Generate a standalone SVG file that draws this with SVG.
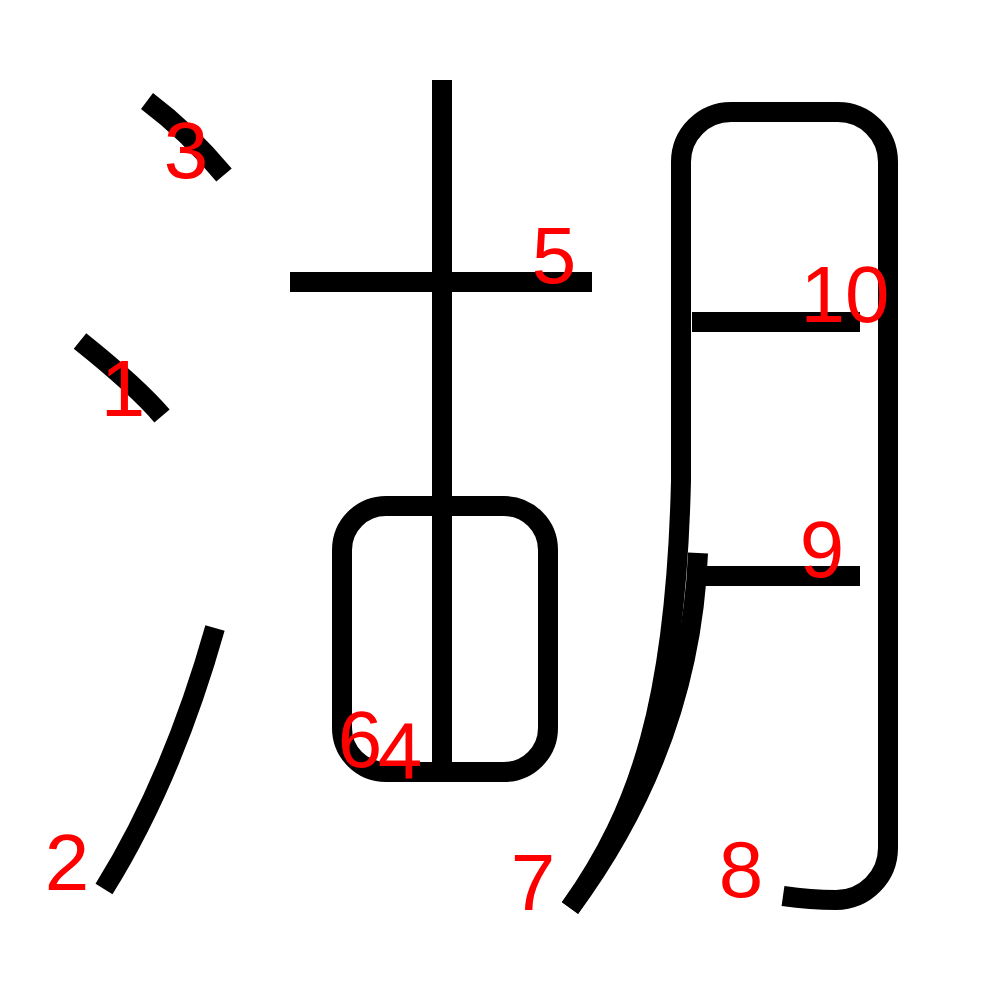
<svg xmlns="http://www.w3.org/2000/svg" width="1000" height="1000" viewBox="0 0 1000 1000">
<style>
.s{fill:none;stroke:#000;stroke-width:20;stroke-linecap:butt;stroke-linejoin:round}
.n{fill:#f00;font-family:"Liberation Sans",Arial,sans-serif;font-size:80px;text-anchor:middle}
</style>
<rect width="1000" height="1000" fill="#fff"/>
<g id="strokes">
<path id="s1" class="s" d="M80,341 C110,365 140,390 162,416"/>
<path id="s2" class="s" d="M215,628 Q172,780 104,889"/>
<path id="s3" class="s" d="M147,101 C175,122 200,146 224,175"/>
<path id="s4" class="s" d="M442,80 L442,772"/>
<path id="s5" class="s" d="M290,282 L592,282"/>
<path id="s6" class="s" d="M386,506 L504,506 A44,44 0 0 1 548,550 L548,728 A44,44 0 0 1 504,772 L386,772 A44,44 0 0 1 342,728 L342,550 A44,44 0 0 1 386,506 Z"/>
<path id="s7" class="s" d="M698,553 C693,680 650,800 570,908"/>
<path id="s8" class="s" d="M570,908 C640,810 676,700 681,480 L681,162 A50,50 0 0 1 731,112 L838,112 A50,50 0 0 1 888,162 L888,848 A52,52 0 0 1 836,900 C811,900 797,898 783,896"/>
<path id="s9" class="s" d="M700,576 L860,576"/>
<path id="s10" class="s" d="M692,322 L860,322"/>
</g>
<g id="labels">
<text class="n" x="123" y="416">1</text>
<text class="n" x="67" y="890">2</text>
<text class="n" x="186" y="178">3</text>
<text class="n" x="400" y="778">4</text>
<text class="n" x="554" y="283">5</text>
<text class="n" x="360" y="767">6</text>
<text class="n" x="533" y="910">7</text>
<text class="n" x="741" y="897">8</text>
<text class="n" x="822" y="577">9</text>
<text class="n" x="845" y="322">10</text>
</g>
</svg>
